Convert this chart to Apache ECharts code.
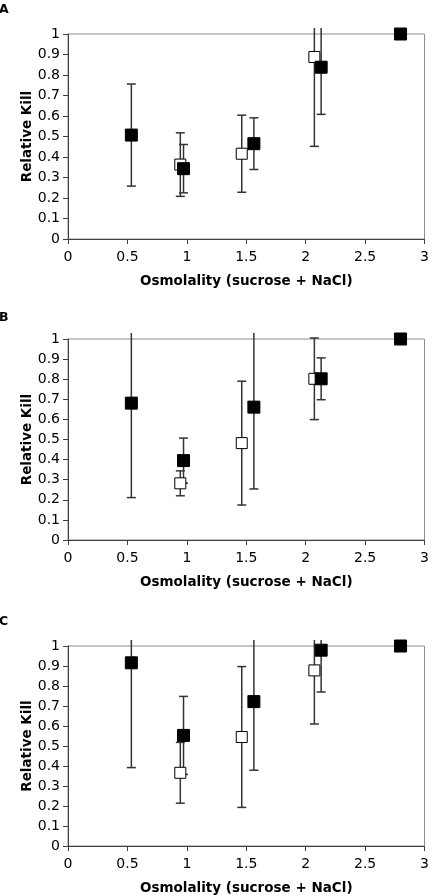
<!DOCTYPE html>
<html>
<head>
<meta charset="utf-8">
<script src="https://cdn.jsdelivr.net/npm/echarts@6/dist/echarts.min.js"></script>
<style>
html,body{margin:0;padding:0;background:#fff;}
#chart{width:432px;height:896px;}
</style>
</head>
<body>
<div id="chart"></div>
<script>
// x positions (osmolality) shared by all panels
var xFilled = [0.533, 0.972, 1.564, 2.13, 2.798];
var xOpen = [0.945, 1.462, 2.073];

// Panel A
var yFilledA = [0.507, 0.343, 0.465, 0.838, 1.0];
var eFilledA = [0.249, 0.118, 0.126, 0.23, 0];
var yOpenA = [0.363, 0.416, 0.888];
var eOpenA = [0.155, 0.188, 0.436];

// Panel B
var yFilledB = [0.681, 0.395, 0.661, 0.802, 1.0];
var eFilledB = [0.47, 0.112, 0.407, 0.104, 0];
var yOpenB = [0.282, 0.482, 0.802];
var eOpenB = [0.062, 0.308, 0.203];

// Panel C
var yFilledC = [0.916, 0.553, 0.722, 0.979, 1.0];
var eFilledC = [0.524, 0.195, 0.343, 0.209, 0];
var yOpenC = [0.366, 0.545, 0.878];
var eOpenC = [0.152, 0.352, 0.268];

var panelLabels = ['A', 'B', 'C'];
var xTitle = 'Osmolality (sucrose + NaCl)';
var yTitle = 'Relative Kill';

var panels = [
  {yF: yFilledA, eF: eFilledA, yO: yOpenA, eO: eOpenA},
  {yF: yFilledB, eF: eFilledB, yO: yOpenB, eO: eOpenB},
  {yF: yFilledC, eF: eFilledC, yO: yOpenC, eO: eOpenC}
];

var gridTops = [34, 339, 646];
var gridHeights = [205, 201, 201];
var labelTops = [3, 311, 615];

var FONT = 'DejaVu Sans';

function errData(xs, ys, es) {
  return xs.map(function (x, i) { return [x, ys[i] - es[i], ys[i] + es[i]]; });
}
function ptData(xs, ys) {
  return xs.map(function (x, i) { return [x, ys[i]]; });
}

function renderErr(params, api) {
  if (api.value(2) - api.value(1) <= 0) return null;
  var x = api.value(0);
  var lo = api.coord([x, api.value(1)]);
  var hi = api.coord([x, api.value(2)]);
  var cs = params.coordSys;
  var limit = cs.y - 6;
  var clipped = hi[1] < limit;
  var topY = clipped ? limit : hi[1];
  var half = 4.5;
  var style = {stroke: '#333', lineWidth: 1.5};
  var children = [
    {type: 'line', shape: {x1: lo[0], y1: lo[1], x2: lo[0], y2: topY}, style: style},
    {type: 'line', shape: {x1: lo[0] - half, y1: lo[1], x2: lo[0] + half, y2: lo[1]}, style: style}
  ];
  if (!clipped) {
    children.push({type: 'line', shape: {x1: hi[0] - half, y1: hi[1], x2: hi[0] + half, y2: hi[1]}, style: style});
  }
  return {type: 'group', children: children};
}

var grids = [], xAxes = [], yAxes = [], series = [], titles = [];
panels.forEach(function (p, i) {
  grids.push({left: 68, width: 360, top: gridTops[i], height: gridHeights[i],
    show: true, borderColor: '#8c8c8c', borderWidth: 1, backgroundColor: 'transparent'});
  xAxes.push({
    type: 'value', gridIndex: i, min: 0, max: 3, interval: 0.5,
    name: xTitle, nameLocation: 'middle', nameGap: 35, nameMoveOverlap: false,
    nameTextStyle: {fontFamily: FONT, fontWeight: 'bold', fontSize: 13.5, color: '#000'},
    axisLine: {show: true, onZero: false, lineStyle: {color: '#404040', width: 1}},
    axisTick: {show: true, inside: false, length: 5, lineStyle: {color: '#404040'}},
    axisLabel: {fontFamily: FONT, fontSize: 14, color: '#000', margin: 11,
      formatter: function (v) { return String(v); }},
    splitLine: {show: false}
  });
  yAxes.push({
    type: 'value', gridIndex: i, min: 0, max: 1, interval: 0.1,
    name: yTitle, nameLocation: 'middle', nameGap: 34, nameRotate: 90, nameMoveOverlap: false,
    nameTextStyle: {fontFamily: FONT, fontWeight: 'bold', fontSize: 13.5, color: '#000'},
    axisLine: {show: true, onZero: false, lineStyle: {color: '#404040', width: 1}},
    axisTick: {show: true, inside: false, length: 5, lineStyle: {color: '#404040'}},
    axisLabel: {fontFamily: FONT, fontSize: 14, color: '#000', margin: 8,
      formatter: function (v) { return String(Math.round(v * 10) / 10); }},
    splitLine: {show: false}
  });
  titles.push({text: panelLabels[i], left: -1, top: labelTops[i], padding: 0,
    textStyle: {fontFamily: FONT, fontWeight: 'bold', fontSize: 12.5, color: '#000'}});

  series.push({type: 'custom', xAxisIndex: i, yAxisIndex: i, z: 1, clip: false,
    renderItem: renderErr, data: errData(xOpen, p.yO, p.eO), silent: true});
  series.push({type: 'custom', xAxisIndex: i, yAxisIndex: i, z: 1, clip: false,
    renderItem: renderErr, data: errData(xFilled, p.yF, p.eF), silent: true});
  series.push({type: 'scatter', xAxisIndex: i, yAxisIndex: i, z: 2, symbol: 'rect', symbolSize: 11,
    itemStyle: {color: '#fff', borderColor: '#000', borderWidth: 1, opacity: 1},
    data: ptData(xOpen, p.yO), silent: true});
  series.push({type: 'scatter', xAxisIndex: i, yAxisIndex: i, z: 3, symbol: 'rect', symbolSize: 12,
    itemStyle: {color: '#000', borderColor: '#000', borderWidth: 1, opacity: 1},
    data: ptData(xFilled, p.yF), silent: true});
});

var chart = echarts.init(document.getElementById('chart'), null, {renderer: 'canvas'});
chart.setOption({
  animation: false,
  backgroundColor: '#fff',
  title: titles,
  grid: grids,
  xAxis: xAxes,
  yAxis: yAxes,
  series: series
});
</script>
</body>
</html>
